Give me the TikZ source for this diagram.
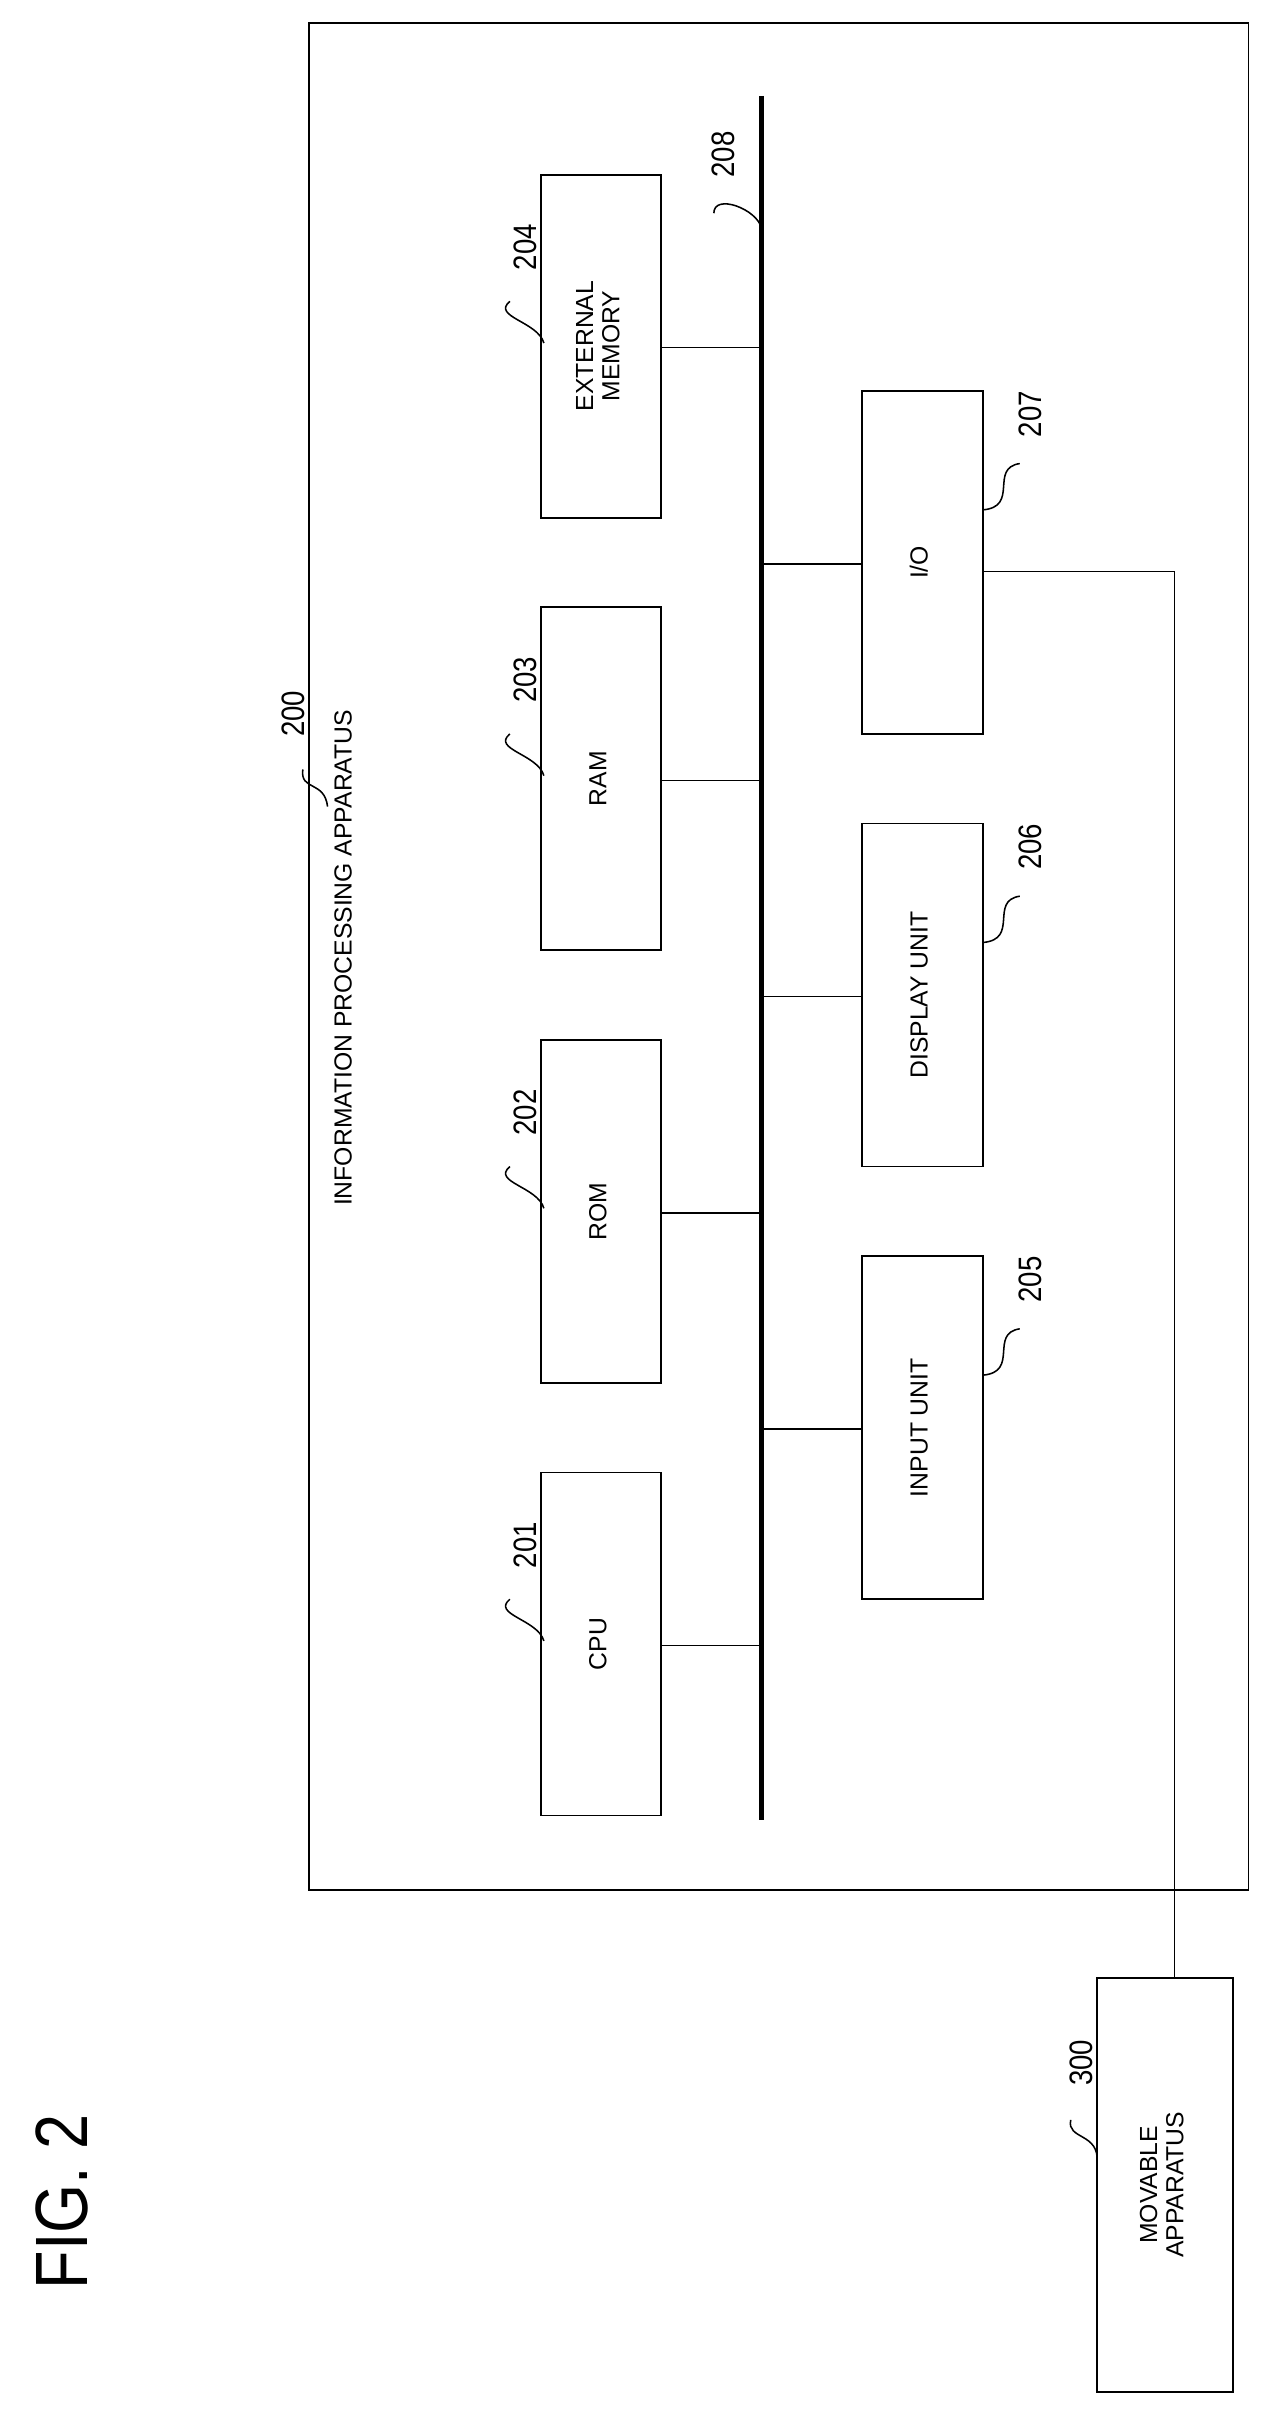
\documentclass[tikz,border=0pt]{standalone}
\usepackage{fontspec}
\setmainfont{Liberation Sans}
\newcommand{\rt}[1]{\rotatebox{90}{\begin{tabular}{@{}c@{}}#1\end{tabular}}}
\begin{document}
\begin{tikzpicture}[x=1pt,y=-1pt,
 bx/.style={draw,line width=1.2pt,minimum width=78pt,minimum height=222pt,inner sep=0pt,font=\fontsize{16}{17}\selectfont},
 num/.style={font=\fontsize{21}{22}\selectfont,rotate=90,inner sep=1pt,xscale=0.85},
 ln/.style={line width=1pt}]
\useasboundingbox (0,0) rectangle (820,1563);
\node[draw,line width=1.2pt,minimum width=608pt,minimum height=1208pt,inner sep=0pt] (outer) at (504,619) {};
\coordinate (bt) at (493,62); \coordinate (bb) at (493,1178);
\draw[line width=3.5pt] (bt) -- (bb);
\node[bx] (b204) at (389,224) {\rt{EXTERNAL\\MEMORY}};
\node[bx] (b203) at (389,504) {\rt{RAM}};
\node[bx] (b202) at (389,784) {\rt{ROM}};
\node[bx] (b201) at (389,1064) {\rt{CPU}};
\node[bx] (b207) at (597,364) {\rt{I/O}};
\node[bx] (b206) at (597,644) {\rt{DISPLAY UNIT}};
\node[bx] (b205) at (597,924) {\rt{INPUT UNIT}};
\node[draw,line width=1.2pt,minimum width=88pt,minimum height=268pt,inner sep=0pt,font=\fontsize{16}{17}\selectfont] (b300) at (754,1414) {\rt{MOVABLE\\APPARATUS}};
\foreach \n/\y in {204/225,203/505,202/785,201/1065}{\draw[ln] (b\n.east |- 0,\y) -- (493,\y);}
\foreach \n/\y in {207/365,206/645,205/925}{\draw[ln] (493,\y) -- (b\n.west |- 0,\y);}
\coordinate (c1) at (760,370);
\draw[ln] (b207.east |- c1) -- (c1) -- (b300.north -| c1);
\node[font=\fontsize{16}{18}\selectfont,rotate=90] (t200) at (222,620) {INFORMATION PROCESSING APPARATUS};
\node[font=\fontsize{48}{50}\selectfont,rotate=90,xscale=0.85] (fig) at (40,1425) {FIG. 2};
% numbers and leaders
\node[num] (n200) at (190,462) {200};
\draw[ln] (196,498) .. controls (194,512) and (210,505) .. (212,522);
\foreach \n/\y in {204/160,203/440,202/720,201/1000}{
 \node[num] (n\n) at (340,\y) {\n};
 \draw[ln] (330,\y+35) .. controls (318,\y+45) and (348,\y+48) .. (352,\y+62);}
\node[num] (n208) at (468,100) {208};
\draw[ln] (462,138) .. controls (462,125) and (490,135) .. (493,148);
\foreach \n/\y in {207/268,206/548,205/828}{
 \node[num] (n\n) at (667,\y) {\n};
 \draw[ln] (660,\y+32) .. controls (640,\y+35) and (660,\y+60) .. (636,\y+62);}
\node[num] (n300) at (700,1335) {300};
\draw[ln] (693,1372) .. controls (690,1385) and (712,1380) .. (710,1400);
\end{tikzpicture}
\end{document}
